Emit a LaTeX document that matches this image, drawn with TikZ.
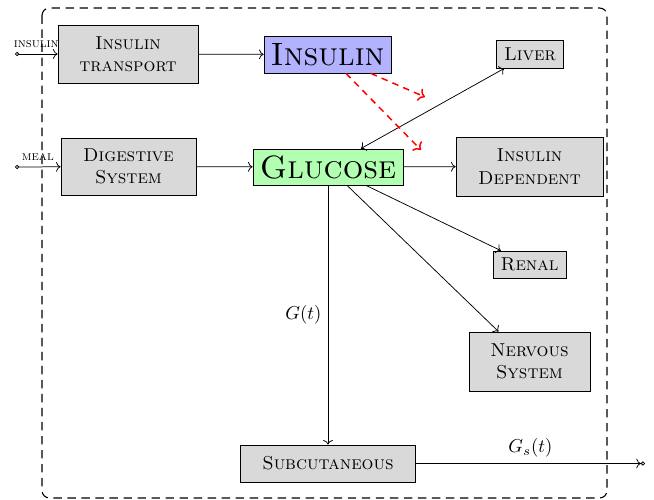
\documentclass[tikz,border=0pt]{standalone}
\usetikzlibrary{arrows.meta}
\newcommand\pxl[1]{#1*0.535pt}
\begin{document}
\begin{tikzpicture}[x=0.535pt,y=-0.535pt,
  blk/.style={draw, fill=gray!30, align=center, inner sep=2pt, font=\scshape},
  big/.style={draw, inner sep=2pt, font=\LARGE\scshape},
  conn/.style={->},
  reddash/.style={->, red, thick, dash pattern=on 3.5pt off 2.8pt},
  lbl/.style={font=\scriptsize\scshape}]
\useasboundingbox (0,0) rectangle (654,500);
\draw[semithick, dash pattern=on 4.5pt off 3pt, rounded corners=4pt] (42,8) rectangle (607,498);
% nodes
\node[blk, minimum width=\pxl{140}, minimum height=\pxl{58}] (trans) at (128,54) {Insulin\\transport};
\node[big, fill=blue!30, minimum width=\pxl{127}, minimum height=\pxl{37}] (insulin) at (327.5,54.5) {Insulin};
\node[blk, minimum width=\pxl{67}, minimum height=\pxl{28}] (liver) at (530,54) {Liver};
\node[blk, minimum width=\pxl{135}, minimum height=\pxl{57}] (digest) at (128.5,166.5) {Digestive\\System};
\node[big, fill=green!30, minimum width=\pxl{150}, minimum height=\pxl{36}] (glucose) at (328,167) {Glucose};
\node[blk, minimum width=\pxl{147}, minimum height=\pxl{59}] (dep) at (529.5,166.5) {Insulin\\Dependent};
\node[blk, minimum width=\pxl{73}, minimum height=\pxl{27}] (renal) at (529.5,264.5) {Renal};
\node[blk, minimum width=\pxl{121}, minimum height=\pxl{59}] (nerv) at (529.5,361.5) {Nervous\\System};
\node[blk, minimum width=\pxl{175}, minimum height=\pxl{37}] (subcut) at (328,463.5) {Subcutaneous};
% free ends
\coordinate (in1) at (15,54);
\coordinate (in2) at (15,167);
\coordinate (out) at (645,463.5);
\coordinate (r1) at (425,97);
\coordinate (r2) at (421,150);
% connectors
\draw[{Circle[open,length=2.2pt]}->] (in1) -- (trans) node[lbl, midway, above] {insulin};
\draw[{Circle[open,length=2.2pt]}->] (in2) -- (digest) node[lbl, midway, above] {meal};
\draw[conn] (trans) -- (insulin);
\draw[conn] (digest) -- (glucose);
\draw[conn] (glucose) -- (dep);
\draw[<->] (glucose) -- (liver);
\draw[conn] (glucose) -- (renal);
\draw[conn] (glucose) -- (nerv);
\draw[conn] (glucose) -- (subcut) node[midway, left] {$G(t)$};
\draw[-{To[]Circle[open,length=2.2pt]}] (subcut) -- (out) node[midway, above] {$G_s(t)$};
\draw[reddash] (insulin) -- (r1);
\draw[reddash] (insulin) -- (r2);
\end{tikzpicture}
\end{document}
